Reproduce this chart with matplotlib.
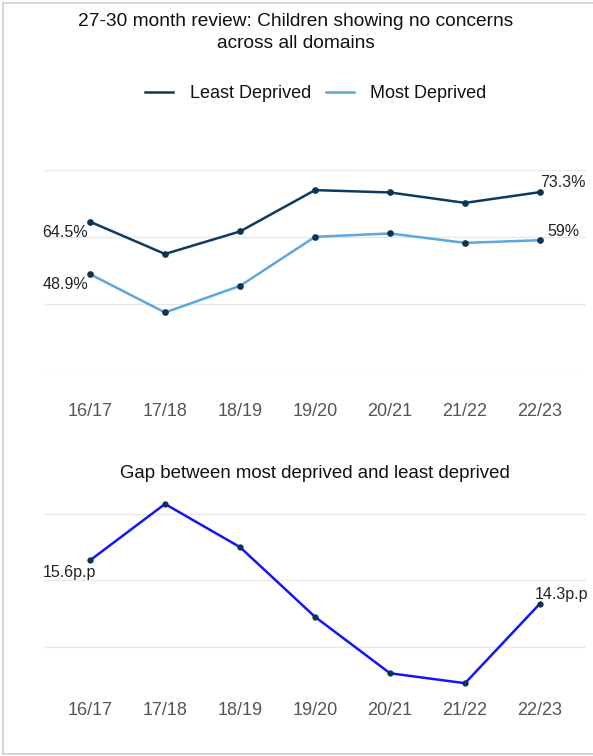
import matplotlib
matplotlib.use("Agg")
import matplotlib.pyplot as plt
from matplotlib.lines import Line2D

plt.rcParams['font.family'] = ['Liberation Sans', 'DejaVu Sans']

years = ["16/17", "17/18", "18/19", "19/20", "20/21", "21/22", "22/23"]
least_deprived = [64.5, 54.9, 61.6, 73.9, 73.2, 70.1, 73.3]
most_deprived = [48.9, 37.5, 45.4, 60.0, 61.0, 58.2, 59.0]
gap_pp = [15.6, 17.3, 16.0, 13.9, 12.2, 11.9, 14.3]

C_LEAST = "#0f3a5f"
C_MOST = "#5ba7de"
C_GAP = "#1515f5"
C_DOT = "#0d3350"
C_GRID = "#e8e8e8"
C_TICK = "#555555"
C_TEXT = "#222222"

W, H = 593, 756
fig = plt.figure(figsize=(W / 100, H / 100), dpi=100)
fig.patch.set_facecolor("white")


def px_axes(left, top, right, bottom):
    return fig.add_axes([left / W, 1 - bottom / H, (right - left) / W, (bottom - top) / H])


# outer frame (left, top and bottom edges)
frame = dict(transform=fig.transFigure, color="#cfcfcf", linewidth=1.2)
fig.lines.append(Line2D([3 / W, 3 / W], [1 - 754 / H, 1 - 3 / H], **frame))
fig.lines.append(Line2D([3 / W, 1], [1 - 3 / H, 1 - 3 / H], **frame))
fig.lines.append(Line2D([3 / W, 1], [1 - 754 / H, 1 - 754 / H], **frame))

x = list(range(len(years)))


def style(ax, ylim, yticks, pad):
    ax.set_xlim(-0.613, 6.613)
    ax.set_ylim(*ylim)
    ax.set_yticks(yticks)
    ax.set_yticklabels([])
    ax.set_xticks(x)
    ax.set_xticklabels(years, fontsize=13, color=C_TICK)
    ax.tick_params(axis="both", length=0)
    ax.tick_params(axis="x", pad=pad)
    ax.grid(axis="y", color=C_GRID, linewidth=1)
    ax.set_axisbelow(True)
    for s in ax.spines.values():
        s.set_visible(False)
    ax.set_facecolor("none")


# top panel
ax1 = px_axes(44, 169.6, 586, 371.3)
style(ax1, (20, 80), [20, 40, 60, 80], 22.5)
ax1.plot(x, least_deprived, color=C_LEAST, lw=1.8, marker="o", ms=3.8,
         mfc=C_DOT, mec=C_DOT, clip_on=False, zorder=3)
ax1.plot(x, most_deprived, color=C_MOST, lw=1.8, marker="o", ms=3.8,
         mfc=C_DOT, mec=C_DOT, clip_on=False, zorder=3)

lab = dict(textcoords="offset points", fontsize=11.5, color=C_TEXT, va="center",
           annotation_clip=False)
ax1.annotate(f"{least_deprived[0]}%", (x[0], least_deprived[0]), xytext=(-1.5, -8), ha="right", **lab)
ax1.annotate(f"{most_deprived[0]}%", (x[0], most_deprived[0]), xytext=(-1.5, -7.5), ha="right", **lab)
ax1.annotate(f"{least_deprived[-1]}%", (x[-1], least_deprived[-1]), xytext=(0, 7), ha="left", **lab)
ax1.annotate(f"{most_deprived[-1]:g}%", (x[-1], most_deprived[-1]), xytext=(5.5, 6.5), ha="left", **lab)

# bottom panel
ax2 = px_axes(44, 494, 586, 696.5)
style(ax2, (11.5, 17.6), [13, 15, 17], 4.2)
ax2.plot(x, gap_pp, color=C_GAP, lw=1.8, marker="o", ms=3.5,
         mfc=C_DOT, mec=C_DOT, clip_on=False, zorder=3)
ax2.annotate(f"{gap_pp[0]}p.p", (x[0], gap_pp[0]), xytext=(4.5, -8.5), ha="right", **lab)
ax2.annotate(f"{gap_pp[-1]}p.p", (x[-1], gap_pp[-1]), xytext=(-4, 6.5), ha="left", **lab)

# titles
fig.text(296 / W, 1 - 32.5 / H, "27-30 month review: Children showing no concerns\nacross all domains",
         ha="center", va="center", fontsize=13.8, color="#111111", linespacing=1.33)
fig.text(315 / W, 1 - 474 / H, "Gap between most deprived and least deprived",
         ha="center", va="center", fontsize=13.4, color="#111111")

# legend
handles = [Line2D([], [], color=C_LEAST, lw=1.8), Line2D([], [], color=C_MOST, lw=1.8)]
fig.legend(handles, ["Least Deprived", "Most Deprived"], loc="center",
           bbox_to_anchor=(316 / W, 1 - 94 / H), ncol=2, frameon=False, fontsize=13,
           handlelength=1.55, handletextpad=0.9, columnspacing=0.85, labelcolor="#111111")

fig.savefig("out.png", dpi=100, facecolor="white")
